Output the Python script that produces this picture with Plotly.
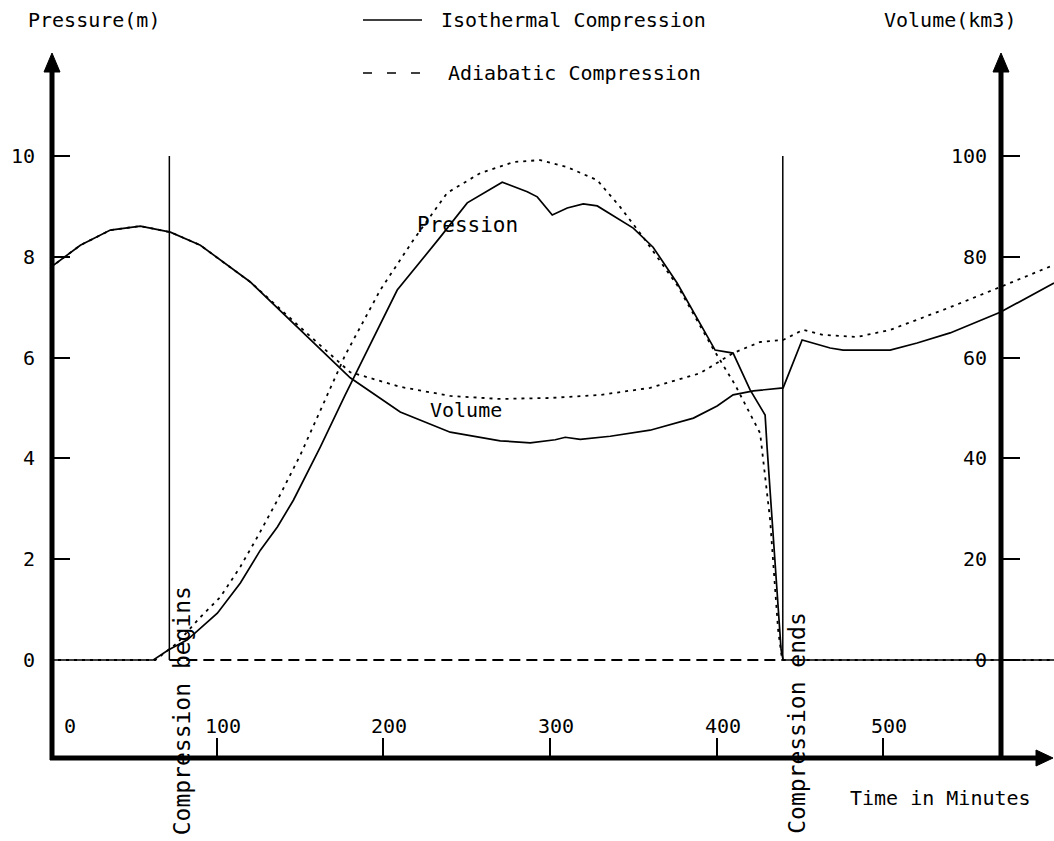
import plotly.graph_objects as go

# ---------------- data ----------------
# Isothermal compression: pressure (m)
t_iso_p = [0, 62, 71, 82.4, 100.4, 114.2, 126.2, 136.4, 146, 162.2, 177.1, 192.1, 208.3,
           234.1, 250.3, 271.3, 286.3, 292.3, 301.3, 310.3, 319.9, 328.3, 349.9, 361.8,
           376.2, 399.0, 409.8, 420.0, 429.0, 430.2, 438.6, 439.8, 602.3]
p_iso = [0, 0, 0.2, 0.4, 0.93, 1.53, 2.18, 2.64, 3.17, 4.23, 5.26, 6.25, 7.34,
         8.39, 9.07, 9.48, 9.29, 9.19, 8.83, 8.97, 9.05, 9.01, 8.57, 8.19,
         7.48, 6.15, 6.09, 5.36, 4.86, 4.21, 0.2, 0, 0]

# Adiabatic compression: pressure (m)
t_adi_p = [0, 63.2, 76.4, 90.2, 102.2, 114.2, 124.4, 136.4, 150.2, 162.2, 177.1, 198.1,
           217.9, 238.3, 258.1, 278.0, 294.1, 310.3, 328.3, 342.0, 355.8, 376.2, 397.2,
           411.0, 426.0, 432.0, 436.8, 439.2, 602.3]
p_adi = [0, 0, 0.34, 0.85, 1.25, 1.85, 2.44, 3.17, 4.07, 4.96, 6.05, 7.34,
         8.33, 9.27, 9.66, 9.88, 9.92, 9.78, 9.52, 8.99, 8.39, 7.44, 6.21,
         5.46, 4.50, 2.78, 0.6, 0, 0]

# Isothermal compression: volume (km3)
t_iso_v = [0, 18.2, 36.2, 54.2, 72.2, 90.2, 120.2, 150.2, 180.1, 210.1, 240.1, 270.1,
           288.1, 303.1, 309.1, 318.1, 336.1, 360.0, 386.0, 400.2, 409.8, 422.0, 439.8,
           451.2, 468.0, 475.8, 504.0, 520.2, 540.0, 570.0, 602.3]
v_iso = [77.8, 82.3, 85.3, 86.1, 84.9, 82.3, 75.0, 65.5, 56.0, 49.2, 45.2, 43.5,
         43.1, 43.7, 44.2, 43.8, 44.4, 45.6, 48.0, 50.4, 52.6, 53.4, 54.0,
         63.5, 61.9, 61.5, 61.5, 62.9, 64.9, 69.0, 74.8]

# Adiabatic compression: volume (km3)
t_adi_v = [0, 18.2, 36.2, 54.2, 72.2, 90.2, 120.2, 138.0, 150.2, 180.1, 210.1, 240.1,
           270.1, 300.1, 330.1, 360.0, 390.0, 409.8, 426.0, 439.8, 451.8, 463.8, 484.2,
           504.0, 540.0, 570.0, 602.3]
v_adi = [77.8, 82.3, 85.3, 86.1, 84.9, 82.3, 75.0, 69.6, 66.0, 57.1, 54.2, 52.4,
         51.8, 52.0, 52.6, 54.0, 56.9, 60.9, 63.1, 63.5, 65.5, 64.5, 64.1,
         65.5, 70.0, 74.0, 78.4]

compression_begin = 71.6
compression_end = 439.6

x_ticks = [0, 100, 200, 300, 400, 500]
x_tick_labels = ["0", "100", "200", "300", "400", "500"]
p_ticks = [0, 2, 4, 6, 8, 10]
p_tick_labels = ["0", "2", "4", "6", "8", "10"]
v_ticks = [0, 20, 40, 60, 80, 100]
v_tick_labels = ["0", "20", "40", "60", "80", "100"]

# ---------------- layout helpers ----------------
W, H = 1054, 841
L, R, T, B = 50, 0, 53, 83
PW, PH = W - L - R, H - T - B
X_RANGE = [0, 602.3]
P_RANGE = [-1.944, 12.044]
V_RANGE = [P_RANGE[0] * 10, P_RANGE[1] * 10]


def X(px):
    return (px - L) / PW


def Y(py):
    return (H - B - py) / PH


FONT = "DejaVu Sans Mono"
BLACK = "black"

fig = go.Figure()
fig.add_trace(go.Scatter(x=t_iso_p, y=p_iso, mode="lines", yaxis="y",
                         line=dict(color=BLACK, width=1.7), name="Isothermal pressure"))
fig.add_trace(go.Scatter(x=t_adi_p, y=p_adi, mode="lines", yaxis="y",
                         line=dict(color=BLACK, width=1.8, dash="3px,5px"), name="Adiabatic pressure"))
fig.add_trace(go.Scatter(x=t_iso_v, y=v_iso, mode="lines", yaxis="y2",
                         line=dict(color=BLACK, width=1.7), name="Isothermal volume"))
fig.add_trace(go.Scatter(x=t_adi_v, y=v_adi, mode="lines", yaxis="y2",
                         line=dict(color=BLACK, width=1.8, dash="3px,5px"), name="Adiabatic volume"))

shapes = []
# dashed zero line during compression
shapes.append(dict(type="line", xref="x", yref="y", x0=compression_begin, x1=compression_end,
                   y0=0, y1=0, line=dict(color=BLACK, width=2, dash="11px,6px")))
# compression begin / end markers
for tx in (compression_begin, compression_end):
    shapes.append(dict(type="line", xref="x", yref="y", x0=tx, x1=tx, y0=0, y1=10,
                       line=dict(color=BLACK, width=1.5)))
# axes (thick lines with arrowheads)
shapes.append(dict(type="line", xref="paper", yref="paper", x0=X(52), x1=X(52), y0=Y(760), y1=Y(64),
                   line=dict(color=BLACK, width=5)))
shapes.append(dict(type="line", xref="paper", yref="paper", x0=X(1001), x1=X(1001), y0=Y(760), y1=Y(64),
                   line=dict(color=BLACK, width=5)))
shapes.append(dict(type="line", xref="paper", yref="paper", x0=X(50), x1=X(1042), y0=Y(758), y1=Y(758),
                   line=dict(color=BLACK, width=5)))


def tri(p1, p2, p3):
    return dict(type="path", xref="paper", yref="paper",
                path=f"M {X(p1[0])},{Y(p1[1])} L {X(p2[0])},{Y(p2[1])} L {X(p3[0])},{Y(p3[1])} Z",
                fillcolor=BLACK, line=dict(color=BLACK, width=1))


shapes.append(tri((52, 53), (44, 72), (60, 72)))
shapes.append(tri((1001, 53), (993, 72), (1009, 72)))
shapes.append(tri((1053, 758), (1036, 750), (1036, 766)))
# legend samples
shapes.append(dict(type="line", xref="paper", yref="paper", x0=X(363), x1=X(422), y0=Y(20), y1=Y(20),
                   line=dict(color=BLACK, width=1.7)))
shapes.append(dict(type="line", xref="paper", yref="paper", x0=X(363), x1=X(421), y0=Y(73), y1=Y(73),
                   line=dict(color=BLACK, width=1.7, dash="9px,15px")))

ann = []
F = dict(family=FONT, size=20, color=BLACK)
for v, lab in zip(x_ticks, x_tick_labels):
    ann.append(dict(x=v, y=Y(726), xref="x", yref="paper", text=lab, showarrow=False,
                    xanchor="center", yanchor="middle", xshift=20 if v == 0 else 6, font=F))
for v, lab in zip(p_ticks, p_tick_labels):
    ann.append(dict(x=X(37), y=v, xref="paper", yref="y", text=lab, showarrow=False,
                    xanchor="right", yanchor="middle", font=F))
for v, lab in zip(v_ticks, v_tick_labels):
    ann.append(dict(x=X(989), y=v, xref="paper", yref="y2", text=lab, showarrow=False,
                    xanchor="right", yanchor="middle", font=F))

ann.append(dict(x=X(26), y=Y(20), xref="paper", yref="paper", text="Pressure(m)", showarrow=False,
                xanchor="left", yanchor="middle", font=F))
ann.append(dict(x=X(1018), y=Y(20), xref="paper", yref="paper", text="Volume(km3)", showarrow=False,
                xanchor="right", yanchor="middle", font=F))
ann.append(dict(x=X(439), y=Y(20), xref="paper", yref="paper", text="Isothermal Compression",
                showarrow=False, xanchor="left", yanchor="middle", font=F))
ann.append(dict(x=X(446), y=Y(73), xref="paper", yref="paper", text="Adiabatic Compression",
                showarrow=False, xanchor="left", yanchor="middle", font=F))
ann.append(dict(x=X(1033), y=Y(798), xref="paper", yref="paper", text="Time in Minutes",
                showarrow=False, xanchor="right", yanchor="middle", font=F))
ann.append(dict(x=250.3, y=8.63, xref="x", yref="y", text="Pression", showarrow=False,
                xanchor="center", yanchor="middle", font=dict(family=FONT, size=21, color=BLACK)))
ann.append(dict(x=249.7, y=4.96, xref="x", yref="y", text="Volume", showarrow=False,
                xanchor="center", yanchor="middle", font=dict(family=FONT, size=20, color=BLACK)))
ann.append(dict(x=compression_begin, y=-1.01, xref="x", yref="y", xshift=13, text="Compression begins",
                showarrow=False, textangle=-90, xanchor="center", yanchor="middle",
                font=dict(family=FONT, size=23, color=BLACK)))
ann.append(dict(x=compression_end, y=-1.25, xref="x", yref="y", xshift=14, text="Compression ends",
                showarrow=False, textangle=-90, xanchor="center", yanchor="middle",
                font=dict(family=FONT, size=23, color=BLACK)))

fig.update_layout(
    width=W, height=H,
    margin=dict(l=L, r=R, t=T, b=B, pad=0),
    paper_bgcolor="white", plot_bgcolor="white",
    showlegend=False,
    xaxis=dict(range=X_RANGE, showgrid=False, zeroline=False, showline=False,
               tickvals=x_ticks[1:], ticks="inside", ticklen=20, tickwidth=1.5, tickcolor=BLACK,
               showticklabels=False),
    yaxis=dict(range=P_RANGE, showgrid=False, zeroline=False, showline=False,
               tickvals=p_ticks[1:], ticks="inside", ticklen=20, tickwidth=1.5, tickcolor=BLACK,
               showticklabels=False),
    yaxis2=dict(range=V_RANGE, overlaying="y", anchor="free", position=X(1001), side="right",
                showgrid=False, zeroline=False, showline=False,
                tickvals=v_ticks, ticks="outside", ticklen=18, tickwidth=1.5, tickcolor=BLACK,
                showticklabels=False),
    shapes=shapes,
    annotations=ann,
)

fig.write_html("out.html")
